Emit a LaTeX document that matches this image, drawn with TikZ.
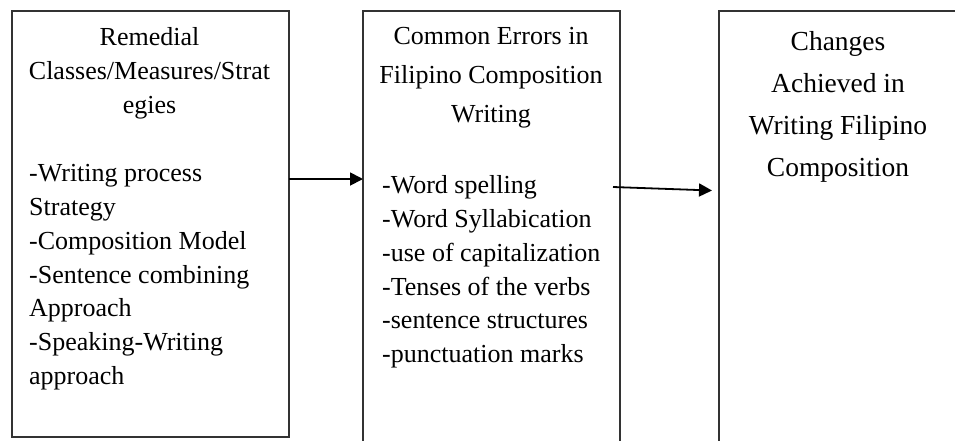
\documentclass[tikz,border=0pt]{standalone}
\usepackage{fontspec}
\setmainfont{Liberation Serif}
\usetikzlibrary{arrows.meta}
\begin{document}
\begin{tikzpicture}[x=1pt,y=-1pt,
  box/.style={draw=black!80, line width=1.8pt, inner sep=0pt, outer sep=0pt},
  txt/.style={inner sep=0pt, font=\fontsize{26}{33.7}\selectfont},
  conn/.style={line width=1.8pt, -{Triangle[length=13pt,width=13pt]}}]
\useasboundingbox (0,0) rectangle (955,440);
\clip (0,0) rectangle (955,440);
% boxes
\node[box, minimum width=277pt, minimum height=426pt] (b1) at (150.5,224) {};
\node[box, minimum width=257pt, minimum height=434pt] (b2) at (491.5,228) {};
\node[box, minimum width=281pt, minimum height=434pt] (b3) at (859.5,228) {};
% texts
\node[txt, anchor=north, align=center] (t1a) at (149.5,27.5)
  {Remedial\\Classes/Measures/Strat\\egies};
\node[txt, anchor=north west, align=left] (t1b) at (29,164.5)
  {-Writing process\\Strategy\\-Composition Model\\-Sentence combining\\Approach\\-Speaking-Writing\\approach};
\node[txt, anchor=north, align=center, font=\fontsize{26}{39}\selectfont] (t2a) at (491,27.5)
  {Common Errors in\\Filipino Composition\\Writing};
\node[txt, anchor=north west, align=left, font=\fontsize{26}{33.8}\selectfont] (t2b) at (382,175.5)
  {-Word spelling\\-Word Syllabication\\-use of capitalization\\-Tenses of the verbs\\-sentence structures\\-punctuation marks};
\node[txt, anchor=north, align=center, font=\fontsize{27.5}{42}\selectfont] (t3) at (838,31)
  {Changes\\Achieved in\\Writing Filipino\\Composition};
% connectors
\coordinate (y1) at (0,179);
\coordinate (y2a) at (0,187);
\coordinate (y2b) at (0,190.5);
\draw[conn] (b1.east |- y1) -- (b2.west |- y1);
\path (b2.east |- y2a) ++(-7,0) coordinate (a2s);
\path (b3.west |- y2b) ++(-7,0) coordinate (a2e);
\draw[conn] (a2s) -- (a2e);
\end{tikzpicture}
\end{document}
